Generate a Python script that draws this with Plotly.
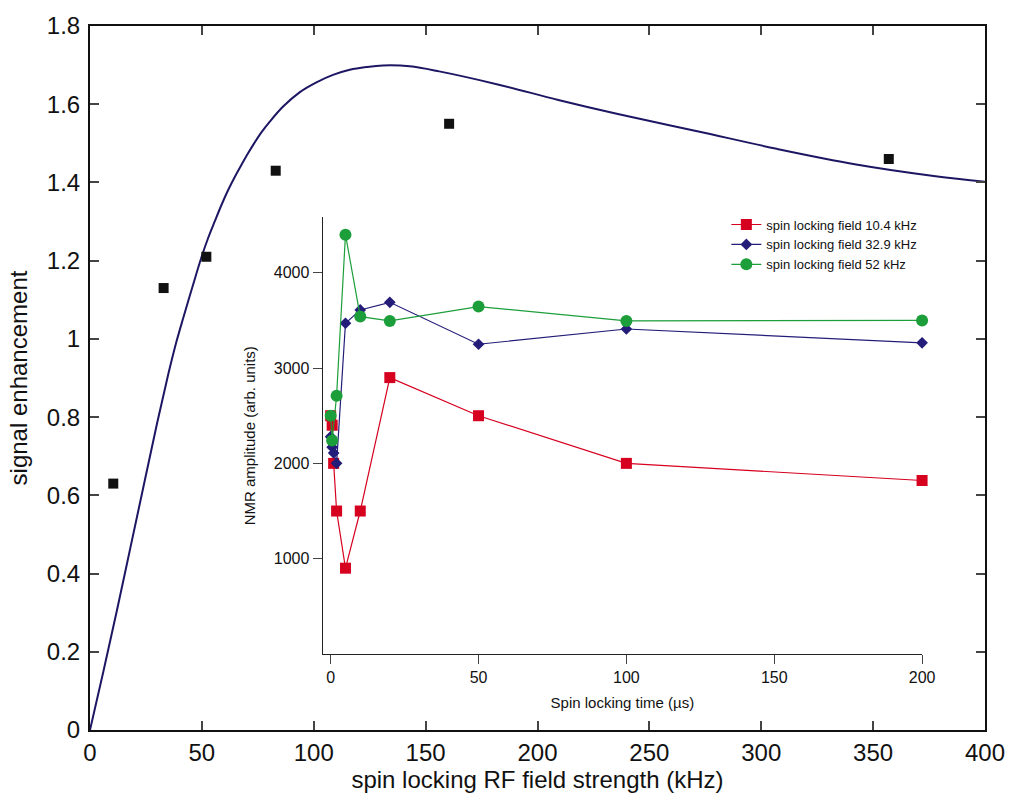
import plotly.graph_objects as go

# main panel: measured enhancement vs. spin-lock field
field_khz = [10.4, 32.9, 52, 83, 160.5, 357]
enhancement = [0.63, 1.13, 1.21, 1.43, 1.55, 1.46]

# theory curve
curve_khz = [0, 6, 12, 18, 24, 30, 35, 38.5, 41.7, 46.1, 49.6, 52.8, 55.8, 58.8,
             61.7, 64.7, 67.7, 70.7, 73.7, 76.6, 80, 86.3, 93.8, 101.2, 108.6,
             116.1, 123.5, 130.9, 142.9, 156.1, 182.7, 209.3, 235.9, 271.4,
             306.9, 342.4, 377.9, 400]
curve_val = [0, 0.150, 0.305, 0.465, 0.625, 0.785, 0.91, 0.99, 1.054, 1.139, 1.205,
             1.258, 1.301, 1.343, 1.380, 1.414, 1.445, 1.475, 1.503, 1.528, 1.553,
             1.594, 1.631, 1.656, 1.675, 1.688, 1.695, 1.699, 1.697, 1.684, 1.650,
             1.611, 1.575, 1.531, 1.486, 1.446, 1.416, 1.402]

# inset: NMR amplitude vs spin locking time
t_red = [0, 0.5, 1, 2, 5, 10, 20, 50, 100, 200]
amp_red = [2500, 2400, 2000, 1500, 900, 1500, 2900, 2500, 2000, 1820]
t_blue = [0, 0.5, 1, 2, 5, 10, 20, 50, 100, 200]
amp_blue = [2280, 2170, 2110, 2000, 3470, 3610, 3690, 3250, 3410, 3265]
t_green = [0, 0.5, 2, 5, 10, 20, 50, 100, 200]
amp_green = [2500, 2240, 2710, 4400, 3540, 3495, 3645, 3495, 3500]

x_ticks = [0, 50, 100, 150, 200, 250, 300, 350, 400]
y_ticks = [0, 0.2, 0.4, 0.6, 0.8, 1.0, 1.2, 1.4, 1.6, 1.8]
y_tick_labels = ["0", "0.2", "0.4", "0.6", "0.8", "1", "1.2", "1.4", "1.6", "1.8"]
inset_x_ticks = [0, 50, 100, 150, 200]
inset_y_ticks = [1000, 2000, 3000, 4000]

FONT = "Liberation Sans, Arial, sans-serif"
RED = "#d6001f"
NAVY = "#231c78"
GREEN = "#1c9e3a"

fig = go.Figure()

fig.add_trace(go.Scatter(x=curve_khz, y=curve_val, mode="lines",
                         line=dict(color="#1d1763", width=2, shape="spline", smoothing=1),
                         showlegend=False, cliponaxis=False))
fig.add_trace(go.Scatter(x=field_khz, y=enhancement, mode="markers",
                         marker=dict(symbol="square", size=10, color="#111111"),
                         showlegend=False))

fig.add_trace(go.Scatter(x=t_red, y=amp_red, mode="lines+markers", name="spin locking field 10.4 kHz",
                         line=dict(color=RED, width=1.2),
                         marker=dict(symbol="square", size=11, color=RED),
                         xaxis="x2", yaxis="y2", cliponaxis=False))
fig.add_trace(go.Scatter(x=t_blue, y=amp_blue, mode="lines+markers", name="spin locking field 32.9 kHz",
                         line=dict(color=NAVY, width=1.2),
                         marker=dict(symbol="diamond", size=9, color=NAVY),
                         xaxis="x2", yaxis="y2", cliponaxis=False))
fig.add_trace(go.Scatter(x=t_green, y=amp_green, mode="lines+markers", name="spin locking field 52 kHz",
                         line=dict(color=GREEN, width=1.2),
                         marker=dict(symbol="circle", size=12, color=GREEN),
                         xaxis="x2", yaxis="y2", cliponaxis=False))

fig.update_layout(
    width=1017, height=801,
    margin=dict(l=90, r=31, t=24, b=71),
    paper_bgcolor="white", plot_bgcolor="white",
    font=dict(family=FONT, color="#111111"),
    xaxis=dict(range=[0, 400], tickvals=x_ticks, ticks="inside", ticklen=9, tickwidth=2,
               showline=True, linewidth=2, linecolor="#111111", mirror="ticks",
               showgrid=False, zeroline=False, tickfont=dict(size=24),
               title=dict(text="spin locking RF field strength (kHz)", font=dict(size=24), standoff=5)),
    yaxis=dict(range=[0, 1.8], tickvals=y_ticks, ticktext=y_tick_labels, ticks="inside",
               ticklen=9, tickwidth=2, showline=True, linewidth=2, linecolor="#111111",
               mirror="ticks", showgrid=False, zeroline=False, tickfont=dict(size=24),
               ticklabelstandoff=3,
               title=dict(text="signal enhancement", font=dict(size=24), standoff=12)),
    xaxis2=dict(domain=[0.260, 0.9297], anchor="y2", range=[-2.7, 200], tickvals=inset_x_ticks,
                ticks="outside", ticklen=9, tickwidth=1.2, showline=True, linewidth=1.3,
                linecolor="#222222", showgrid=False, zeroline=False, tickfont=dict(size=16),
                title=dict(text="Spin locking time (µs)", font=dict(size=15), standoff=12)),
    yaxis2=dict(domain=[0.108, 0.728], anchor="x2", range=[0, 4580], tickvals=inset_y_ticks,
                ticks="outside", ticklen=9, tickwidth=1.2, showline=True, linewidth=1.3,
                linecolor="#222222", showgrid=False, zeroline=False, tickfont=dict(size=16),
                title=dict(text="NMR amplitude (arb. units)", font=dict(size=15), standoff=14)),
    legend=dict(x=0.711, y=0.7393, xanchor="left", yanchor="top", bgcolor="rgba(0,0,0,0)",
                font=dict(size=13), tracegroupgap=0),
)

fig.write_html("out.html", config={"displayModeBar": False},
               post_script="document.body.style.margin='0';")
